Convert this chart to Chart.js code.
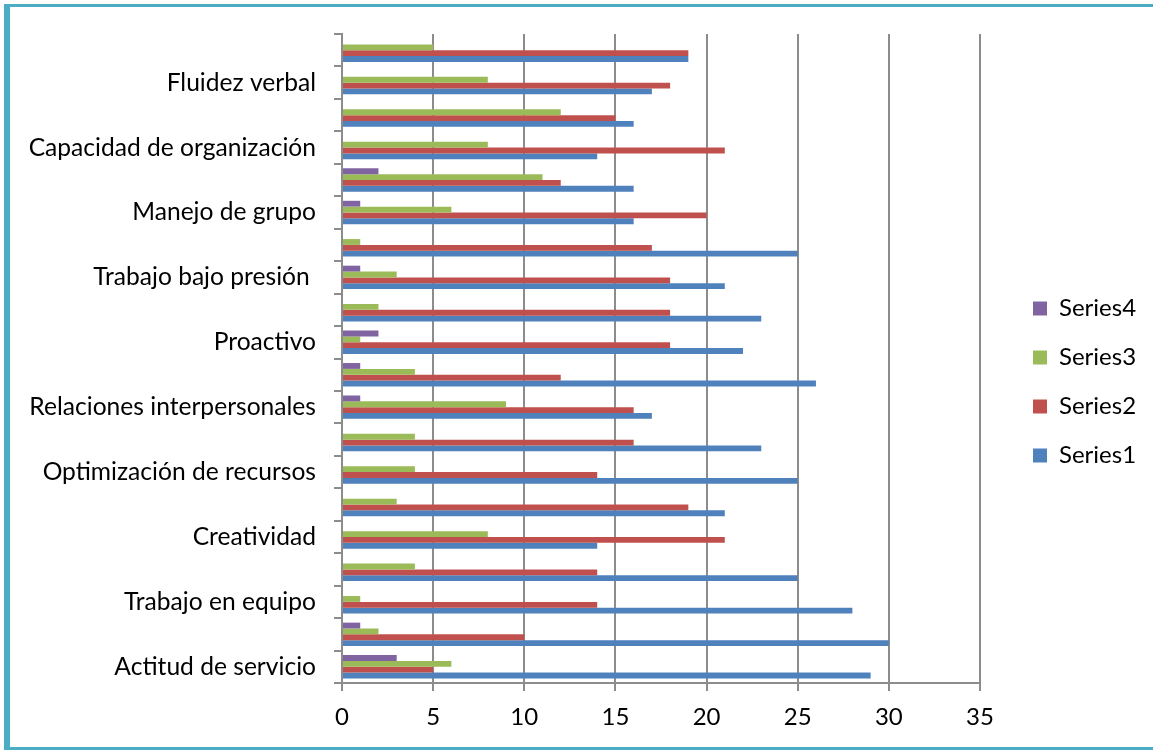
<!DOCTYPE html>
<html>
<head>
<meta charset="utf-8">
<script src="https://cdn.jsdelivr.net/npm/chart.js@4.4.1/dist/chart.umd.min.js"></script>
<style>
  html, body { margin: 0; padding: 0; background: #ffffff; overflow: hidden; }
  #wrap { position: relative; width: 1153px; height: 750px; }
  #frame {
    position: absolute; left: 4px; top: 4px; width: 1170px; height: 740px;
    border-left: 6px solid #4bacc6; border-top: 3px solid #4bacc6;
    border-bottom: 3px solid #4bacc6; border-right: 3px solid #4bacc6;
    pointer-events: none;
  }
  canvas { position: absolute; left: 0; top: 0; }
</style>
</head>
<body>
<div id="wrap">
  <canvas id="c" width="1153" height="750"></canvas>
  <div id="frame"></div>
</div>
<script>
// Category names (only every other category is labelled in the original, bottom to top)
const categories = [
  'Actitud de servicio',
  'Trabajo en equipo',
  'Creatividad',
  'Optimización de recursos',
  'Relaciones interpersonales',
  'Proactivo',
  'Trabajo bajo presión ',
  'Manejo de grupo',
  'Capacidad de organización',
  'Fluidez verbal'
];

// Values per category row, listed from the bottom row to the top row
const series1 = [29, 30, 28, 25, 14, 21, 25, 23, 17, 26, 22, 23, 21, 25, 16, 16, 14, 16, 17, 19];
const series2 = [5, 10, 14, 14, 21, 19, 14, 16, 16, 12, 18, 18, 18, 17, 20, 12, 21, 15, 18, 19];
const series3 = [6, 2, 1, 4, 8, 3, 4, 4, 9, 4, 1, 2, 3, 1, 6, 11, 8, 12, 8, 5];
const series4 = [3, 1, 0, 0, 0, 0, 0, 0, 1, 1, 2, 0, 1, 0, 1, 2, 0, 0, 0, 0];

const seriesNames = ['Series1', 'Series2', 'Series3', 'Series4'];
const xTicks = [0, 5, 10, 15, 20, 25, 30, 35];

// Build the 20 row labels: every other row carries a visible name
const rowLabels = series1.map((_, i) => (i % 2 === 0 ? categories[i / 2] : ''));

const FONT = 'Lato, "Liberation Sans", sans-serif';
Chart.defaults.font.family = FONT;
Chart.defaults.font.size = 24;
Chart.defaults.color = '#000000';

const GRID = '#8c8c8c';
const LEGEND_W = 173;
const LEGEND_SHIFT_X = 28;
const LEGEND_SHIFT_Y = -10;

const legendPlace = {
  id: 'legendPlace',
  beforeLayout(chart) {
    const lg = chart.legend;
    if (lg && !lg.__wrapped) {
      const orig = lg.fit;
      lg.fit = function () { orig.call(this); this.width = LEGEND_W; };
      lg.__wrapped = true;
    }
  },
  afterLayout(chart) {
    const lg = chart.legend;
    if (lg) {
      lg.left += LEGEND_SHIFT_X; lg.right += LEGEND_SHIFT_X;
      lg.top += LEGEND_SHIFT_Y; lg.bottom += LEGEND_SHIFT_Y;
    }
  }
};

new Chart(document.getElementById('c'), {
  type: 'bar',
  data: {
    labels: rowLabels,
    datasets: [
      { label: seriesNames[3], data: series4, backgroundColor: '#8064A2' },
      { label: seriesNames[2], data: series3, backgroundColor: '#9BBB59' },
      { label: seriesNames[1], data: series2, backgroundColor: '#C0504D' },
      { label: seriesNames[0], data: series1, backgroundColor: '#4F81BD' }
    ]
  },
  options: {
    indexAxis: 'y',
    responsive: false,
    animation: false,
    datasets: { bar: { categoryPercentage: 0.72, barPercentage: 1.0, borderWidth: 0 } },
    layout: { padding: { top: 34, left: 0, right: 0, bottom: 0 } },
    plugins: {
      legend: {
        position: 'right',
        labels: { boxWidth: 14, boxHeight: 14, padding: 25, font: { size: 24 }, color: '#000' }
      },
      tooltip: { enabled: false },
      title: { display: false }
    },
    scales: {
      x: {
        type: 'linear',
        min: xTicks[0],
        max: xTicks[xTicks.length - 1],
        afterBuildTicks(s) { s.ticks = xTicks.map(v => ({ value: v })); },
        ticks: { padding: 12, font: { size: 24 }, color: '#000' },
        grid: { color: GRID, lineWidth: 2, tickLength: 8, drawTicks: true },
        border: { color: GRID, width: 2 },
        afterFit(s) { s.height = 67; }
      },
      y: {
        reverse: true,
        ticks: { autoSkip: false, padding: 18, font: { size: 24.6 }, color: '#000' },
        grid: { drawOnChartArea: false, offset: true, color: GRID, lineWidth: 2, tickLength: 8 },
        border: { color: GRID, width: 2 },
        afterFit(s) { s.width = 342; }
      }
    }
  },
  plugins: [legendPlace]
});
</script>
</body>
</html>
